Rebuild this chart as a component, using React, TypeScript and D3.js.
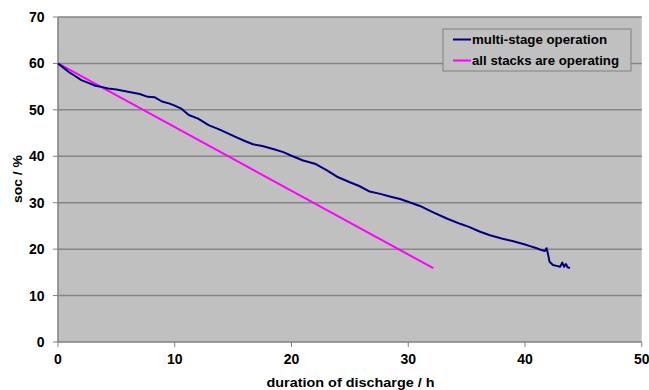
import React from "react";
import * as d3 from "d3";

const xTicks = [0, 10, 20, 30, 40, 50];
const yTicks = [0, 10, 20, 30, 40, 50, 60, 70];

const multiStageT = [0, 0.4, 0.9, 1.4, 2.0, 2.6, 3.2, 3.8, 4.3, 5.0, 6.0, 7.0, 7.7, 8.3, 8.9, 9.5, 10.0, 10.6, 11.2, 12.0, 12.9, 13.9, 15.2, 16.0, 16.7, 17.5, 18.5, 19.3, 20.1, 21.0, 22.0, 23.0, 23.9, 25.0, 25.8, 26.7, 27.6, 28.5, 29.3, 30.1, 31.0, 32.0, 33.3, 34.5, 35.2, 36.1, 37.0, 38.0, 39.0, 40.0, 40.5, 41.0, 41.4, 41.7, 41.85, 42.0, 42.1, 42.4, 42.7, 43.0, 43.2, 43.35, 43.5, 43.65, 43.85];
const multiStageSoc = [60, 59.2, 58.2, 57.4, 56.4, 55.8, 55.2, 54.9, 54.6, 54.4, 53.9, 53.4, 52.8, 52.7, 51.8, 51.4, 50.9, 50.2, 48.9, 48.1, 46.7, 45.7, 44.2, 43.3, 42.6, 42.2, 41.5, 40.9, 40.0, 39.1, 38.4, 37.0, 35.6, 34.4, 33.6, 32.4, 31.9, 31.3, 30.8, 30.1, 29.3, 28.1, 26.6, 25.4, 24.8, 23.8, 23.0, 22.3, 21.7, 21.0, 20.6, 20.2, 19.8, 19.6, 20.2, 18.6, 17.3, 16.6, 16.4, 16.2, 17.1, 16.2, 16.8, 16.1, 15.9];

const allStacksT = [0, 32.15];
const allStacksSoc = [60, 15.9];

const seriesNames = ["multi-stage operation", "all stacks are operating"];
const seriesColors = ["#000080", "#ff00ff"];
const legendWidths = [135, 147];

export default function App() {
  const W = 649, H = 390;
  const left = 58, right = 641.75, top = 17, bottom = 342;
  const x = d3.scaleLinear().domain([0, 50]).range([left, right]);
  const y = d3.scaleLinear().domain([0, 70]).range([bottom, top]);
  const line = d3
    .line<[number, number]>()
    .x((d) => x(d[0]))
    .y((d) => y(d[1]))
    .curve(d3.curveLinear);
  const blue = multiStageT.map((t, i) => [t, multiStageSoc[i]] as [number, number]);
  const pink = allStacksT.map((t, i) => [t, allStacksSoc[i]] as [number, number]);
  const font = "'Liberation Sans', Arial, sans-serif";

  return (
    <svg
      width={W}
      height={H}
      style={{ position: "absolute", left: 0, top: 0, background: "#fff" }}
      fontFamily={font}
    >
      <rect x={left} y={top} width={right - left} height={bottom - top} fill="#c0c0c0" />
      {yTicks.map((t) => (
        <g key={"y" + t}>
          {t > 0 && (
            <line x1={left} x2={right} y1={y(t)} y2={y(t)} stroke="#858585" strokeWidth={1.5} />
          )}
          <line x1={left - 5} x2={left} y1={y(t)} y2={y(t)} stroke="#808080" strokeWidth={1} />
          <text x={44.5} y={y(t) + 5} textAnchor="end" fontSize={14} fontWeight="bold" fill="#000">
            {t}
          </text>
        </g>
      ))}
      {xTicks.map((t) => (
        <g key={"x" + t}>
          <line x1={x(t)} x2={x(t)} y1={bottom} y2={bottom + 5} stroke="#808080" strokeWidth={1} />
          <text x={x(t)} y={364} textAnchor="middle" fontSize={14} fontWeight="bold" fill="#000">
            {t}
          </text>
        </g>
      ))}
      <line x1={left} x2={left} y1={top} y2={bottom} stroke="#808080" strokeWidth={1.5} />
      <line x1={left} x2={right} y1={bottom} y2={bottom} stroke="#808080" strokeWidth={1.5} />
      <path d={line(pink) || ""} fill="none" stroke={seriesColors[1]} strokeWidth={2} />
      <path d={line(blue) || ""} fill="none" stroke={seriesColors[0]} strokeWidth={2} strokeLinejoin="round" />
      <g>
        <rect x={443} y={29} width={188} height={42} fill="#c0c0c0" stroke="#808080" strokeWidth={1} />
        {seriesNames.map((n, i) => (
          <g key={n}>
            <line x1={453} x2={471} y1={39.5 + i * 21} y2={39.5 + i * 21} stroke={seriesColors[i]} strokeWidth={2} />
            <text
              x={472}
              y={44 + i * 21}
              fontSize={13}
              fontWeight="bold"
              fill="#000"
              textLength={legendWidths[i]}
              lengthAdjust="spacingAndGlyphs"
            >
              {n}
            </text>
          </g>
        ))}
      </g>
      <text
        x={266.5}
        y={386.5}
        fontSize={12.5}
        fontWeight="bold"
        fill="#000"
        textLength={168}
        lengthAdjust="spacingAndGlyphs"
      >
        duration of discharge / h
      </text>
      <text
        transform={`translate(22, 203) rotate(-90)`}
        fontSize={12.5}
        fontWeight="bold"
        fill="#000"
        textLength={48}
        lengthAdjust="spacingAndGlyphs"
      >
        soc / %
      </text>
    </svg>
  );
}
